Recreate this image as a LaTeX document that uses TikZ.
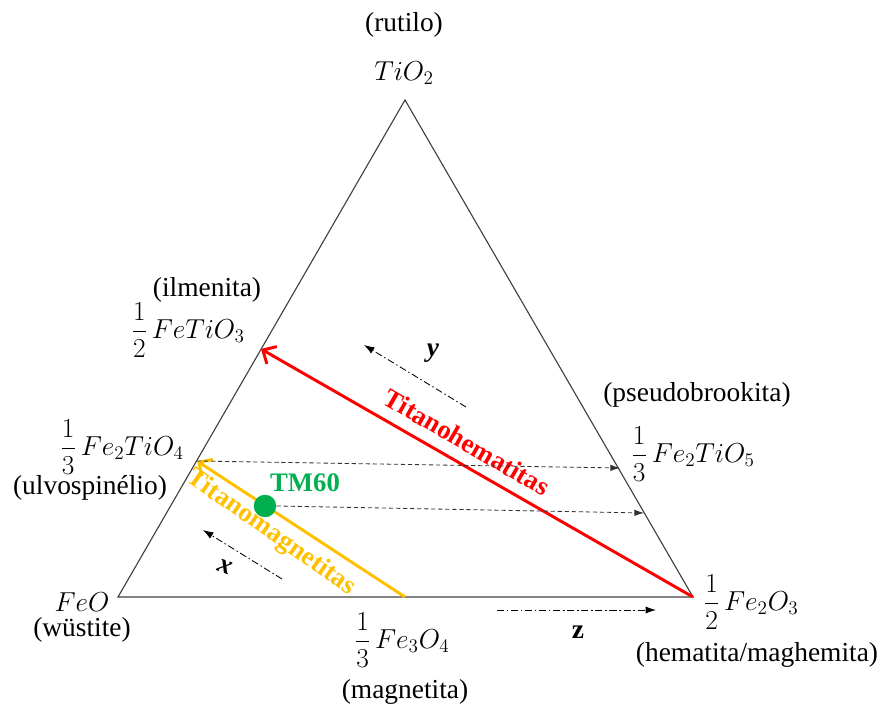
\RequirePackage{fix-cm}
\documentclass[tikz,border=0pt]{standalone}
\usepackage{amsmath}
\usepackage{fontspec}
\setmainfont{Liberation Serif}
\usetikzlibrary{arrows.meta,positioning}
\definecolor{thred}{HTML}{FF0000}
\definecolor{tmyellow}{HTML}{FFC000}
\definecolor{tmgreen}{HTML}{00B050}
\tikzset{
  phase/.style={font=\fontsize{19.5}{22}\selectfont, inner sep=0pt, align=center},
  formula/.style={font=\fontsize{19.5}{22}\selectfont, inner sep=0pt},
  series/.style={font=\fontsize{19}{22}\selectfont\bfseries, inner sep=0pt},
  edge/.style={draw=black!75, line width=0.8pt},
  solid line/.style={line width=2.1pt, -{Straight Barb[length=2.6mm,width=5mm]}},
  tie/.style={densely dashed, line width=0.6pt, draw=black!80, -{Latex[length=2.4mm,width=1.6mm]}},
  axisarrow/.style={dash pattern=on 5pt off 2pt on 1pt off 2pt, line width=0.6pt, -{Latex[length=2.6mm,width=1.8mm]}},
  axislabel/.style={font=\fontsize{19.5}{22}\selectfont\bfseries\itshape, inner sep=0pt},
}
\begin{document}
\begin{tikzpicture}[x=0.025cm, y=-0.025cm]
  \useasboundingbox (0,0) rectangle (884,707);
  % vertices of the ternary diagram
  \coordinate (tio2) at (405,100);
  \coordinate (feo) at (118,597);
  \coordinate (fe2o3) at (693,597);
  \coordinate (ilm) at (261,349);
  \coordinate (ulvo) at (197,461);
  \coordinate (mag) at (405,597);
  \coordinate (pseudo) at (620,468);
  \coordinate (tmend) at (644,513);
  \draw[edge] (tio2)--(feo)--(fe2o3)--cycle;

  % labels
  \node[phase] (rutilo) at (404,25) {(rutilo)};
  \node[formula] (tio2lbl) at (404,73) {$TiO_2$};
  \node[phase] (ilmenita) at (207,290) {(ilmenita)};
  \node[formula] (ilmlbl) at (188,330) {$\dfrac{1}{2}\,FeTiO_3$};
  \node[formula] (ulvolbl) at (122,447) {$\dfrac{1}{3}\,Fe_2TiO_4$};
  \node[phase] (ulvospinelio) at (90,488) {(ulvospinélio)};
  \node[phase] (pseudobrookita) at (697,395) {(pseudobrookita)};
  \node[formula] (pseudolbl) at (693,454) {$\dfrac{1}{3}\,Fe_2TiO_5$};
  \node[formula] (feolbl) at (82,602) {$FeO$};
  \node[phase] (wustite) at (82,630) {(wüstite)};
  \node[formula] (maglbl) at (402,640) {$\dfrac{1}{3}\,Fe_3O_4$};
  \node[phase] (magnetita) at (405,692) {(magnetita)};
  \node[formula] (fe2o3lbl) at (751,602) {$\dfrac{1}{2}\,Fe_2O_3$};
  \node[phase] (hematita) at (757,655) {(hematita/maghemita)};

  % solid solution series
  \draw[solid line, draw=thred] (fe2o3)--(ilm);
  \draw[solid line, draw=tmyellow] (mag)--(ulvo);
  \node[series, text=thred, rotate=-30] (thlbl) at (467,442) {Titanohematitas};
  \node[series, text=tmyellow, rotate=-35] (tmlbl) at (271,533) {Titanomagnetitas};

  % TM60
  \node[circle, fill=tmgreen, minimum size=16pt, inner sep=0pt] (tm60) at (265,506) {};
  \node[series, text=tmgreen] (tm60lbl) at (305,483) {TM60};

  % oxidation ties
  \draw[tie] (ulvo)--(pseudo);
  \draw[tie] (tm60.east)--(tmend);

  % composition axes
  \coordinate (ya) at (466,407);
  \coordinate (yb) at (364,345);
  \coordinate (xa) at (282,579);
  \coordinate (xb) at (203,530);
  \coordinate (za) at (497,610);
  \coordinate (zb) at (656,610);
  \draw[axisarrow] (ya)--(yb);
  \draw[axisarrow] (xa)--(xb);
  \draw[axisarrow] (za)--(zb);
  \node[axislabel] (ylbl) at (433,353) {y};
  \node[axislabel, rotate=-20] (xlbl) at (225,567) {x};
  \node[axislabel, font=\fontsize{19.5}{22}\selectfont\bfseries] (zlbl) at (578,632) {z};
\end{tikzpicture}
\end{document}
